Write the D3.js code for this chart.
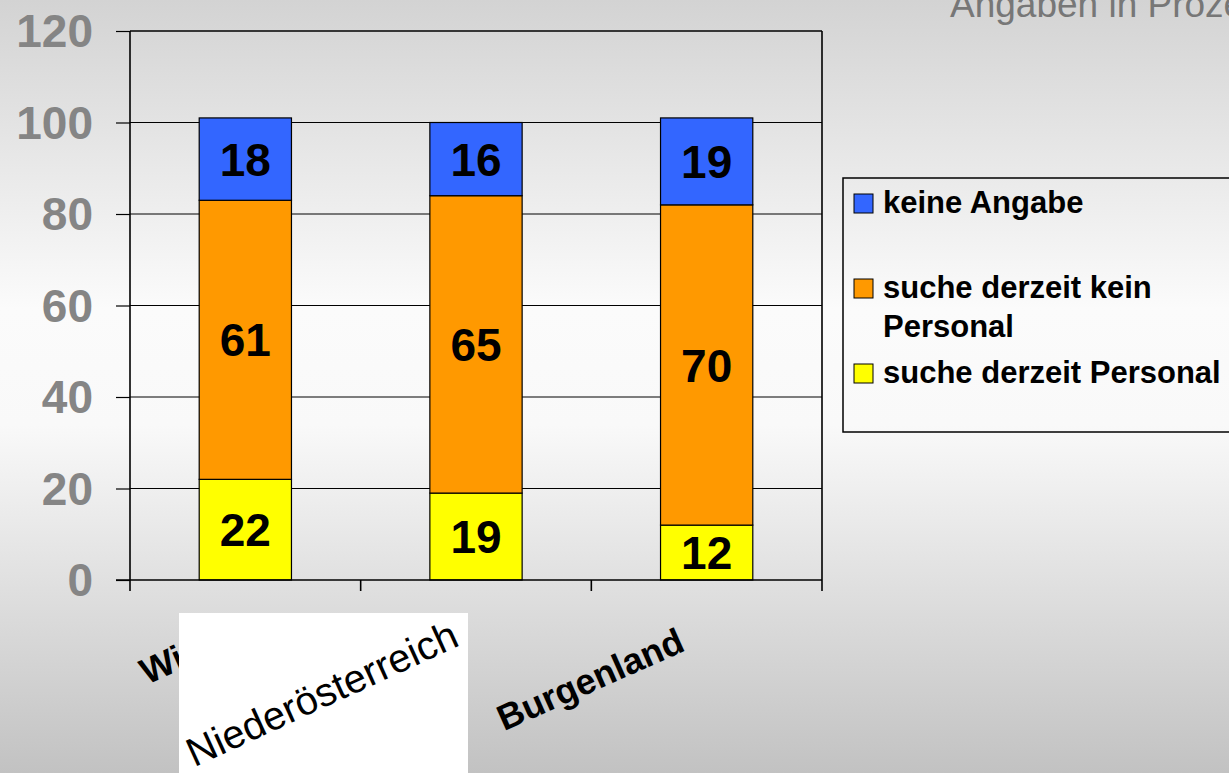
<!DOCTYPE html>
<html>
<head>
<meta charset="utf-8">
<script src="https://cdn.jsdelivr.net/npm/d3@7"></script>
<style>
  body { margin: 0; overflow: hidden; }
  text { font-family: "Liberation Sans", Arial, sans-serif; }
</style>
</head>
<body>
<div id="plot"></div>
<script>
// Data
const categories = ["Wien", "Niederösterreich", "Burgenland"];
const seriesNames = ["suche derzeit Personal", "suche derzeit kein Personal", "keine Angabe"];
const sucheDerzeitPersonal = [22, 19, 12];
const sucheDerzeitKeinPersonal = [61, 65, 70];
const keineAngabe = [18, 16, 19];
const yTicks = [0, 20, 40, 60, 80, 100, 120];
const colors = ["#FFFF00", "#FF9900", "#3366FF"];

const width = 1229, height = 773;
const margin = { top: 31, bottom: 193, left: 130, right: 407 };

const svg = d3.select('#plot')
  .append('svg')
  .attr('width', width)
  .attr('height', height);

// Background gradient
const grad = svg.append('defs').append('linearGradient')
  .attr('id', 'bg').attr('x1', 0).attr('y1', 0).attr('x2', 0).attr('y2', 1);
grad.append('stop').attr('offset', '0%').attr('stop-color', '#d3d3d3');
grad.append('stop').attr('offset', '40%').attr('stop-color', '#fbfbfb');
grad.append('stop').attr('offset', '55%').attr('stop-color', '#f9f9f9');
grad.append('stop').attr('offset', '100%').attr('stop-color', '#c2c2c2');

svg.append('rect')
  .attr('width', width).attr('height', height)
  .attr('fill', 'url(#bg)');

// Scales
const x = d3.scaleBand()
  .domain(categories)
  .range([margin.left, width - margin.right]);

const y = d3.scaleLinear()
  .domain([0, 120])
  .range([height - margin.bottom, margin.top]);

const barW = x.bandwidth() * 0.4;

// Stack the data
const rows = categories.map((c, i) => ({
  category: c,
  [seriesNames[0]]: sucheDerzeitPersonal[i],
  [seriesNames[1]]: sucheDerzeitKeinPersonal[i],
  [seriesNames[2]]: keineAngabe[i]
}));
const stacked = d3.stack().keys(seriesNames)(rows);

// Gridlines + y axis
svg.append('g')
  .attr('transform', `translate(${margin.left},0)`)
  .call(d3.axisLeft(y).tickValues(yTicks).tickSize(14).tickFormat(''))
  .call(g => g.select('.domain').remove())
  .selectAll('line').attr('stroke', '#000').attr('stroke-width', 1.2);

svg.append('g')
  .selectAll('line')
  .data(yTicks.filter(d => d > 0))
  .join('line')
  .attr('x1', margin.left).attr('x2', width - margin.right)
  .attr('y1', d => y(d)).attr('y2', d => y(d))
  .attr('stroke', '#000')
  .attr('stroke-width', d => d === 120 ? 1.5 : 1);

svg.append('g')
  .selectAll('text')
  .data(yTicks)
  .join('text')
  .attr('x', 93)
  .attr('y', d => y(d))
  .attr('dy', '0.35em')
  .attr('text-anchor', 'end')
  .style('font-size', '46px')
  .style('font-weight', 'bold')
  .attr('fill', '#858585')
  .text(d => d);

// Bars
const layer = svg.append('g')
  .selectAll('g')
  .data(stacked)
  .join('g')
  .attr('fill', (d, i) => colors[i]);

layer.selectAll('rect')
  .data(d => d)
  .join('rect')
  .attr('x', d => x(d.data.category) + (x.bandwidth() - barW) / 2)
  .attr('y', d => y(d[1]))
  .attr('width', barW)
  .attr('height', d => y(d[0]) - y(d[1]))
  .attr('stroke', '#000')
  .attr('stroke-width', 1.2);

layer.selectAll('text')
  .data(d => d)
  .join('text')
  .attr('x', d => x(d.data.category) + x.bandwidth() / 2)
  .attr('y', d => (y(d[0]) + y(d[1])) / 2)
  .attr('dy', '0.36em')
  .attr('text-anchor', 'middle')
  .attr('fill', '#000')
  .style('font-size', '46px')
  .style('font-weight', 'bold')
  .text(d => d[1] - d[0]);

// Axis lines
const axisG = svg.append('g').attr('stroke', '#000').attr('stroke-width', 1.6);
axisG.append('line')
  .attr('x1', margin.left).attr('x2', margin.left)
  .attr('y1', y(120)).attr('y2', y(0) + 11);
axisG.append('line')
  .attr('x1', width - margin.right).attr('x2', width - margin.right)
  .attr('y1', y(120)).attr('y2', y(0) + 11);
axisG.append('line')
  .attr('x1', margin.left - 14).attr('x2', width - margin.right)
  .attr('y1', y(0)).attr('y2', y(0));
axisG.selectAll('.tick')
  .data(categories.slice(1))
  .join('line')
  .attr('class', 'tick')
  .attr('x1', d => x(d)).attr('x2', d => x(d))
  .attr('y1', y(0)).attr('y2', y(0) + 11);

// Category labels
svg.append('g')
  .selectAll('text')
  .data(categories.filter(c => c !== "Niederösterreich"))
  .join('text')
  .attr('transform', d => `translate(${x(d) + x.bandwidth() / 2 - 20},650) rotate(-24)`)
  .attr('text-anchor', 'end')
  .style('font-size', '36px')
  .style('font-weight', 'bold')
  .text(d => d);

// Niederösterreich label sits on a white patch over the Wien label
const noe = "Niederösterreich";
const noeX = x(noe) + x.bandwidth() / 2;
svg.append('rect')
  .attr('x', noeX - 297).attr('y', 613)
  .attr('width', 289).attr('height', height - 613)
  .attr('fill', '#fff');
svg.append('text')
  .attr('transform', `translate(${noeX - 15},645) rotate(-24.6)`)
  .attr('text-anchor', 'end')
  .style('font-size', '40px')
  .text(noe);

// Legend
const legend = svg.append('g');
legend.append('rect')
  .attr('x', 843).attr('y', 178)
  .attr('width', 420).attr('height', 254)
  .attr('fill', 'none')
  .attr('stroke', '#000')
  .attr('stroke-width', 1.5);

const legendItems = [
  { key: seriesNames[2], lines: ["keine Angabe"], yBase: 213 },
  { key: seriesNames[1], lines: ["suche derzeit kein", "Personal"], yBase: 298 },
  { key: seriesNames[0], lines: ["suche derzeit Personal"], yBase: 383 }
];

const item = legend.selectAll('g')
  .data(legendItems)
  .join('g');

item.append('rect')
  .attr('x', 854)
  .attr('y', d => d.yBase - 19)
  .attr('width', 19).attr('height', 19)
  .attr('fill', d => colors[seriesNames.indexOf(d.key)])
  .attr('stroke', '#000')
  .attr('stroke-width', 1);

item.append('text')
  .attr('x', 883)
  .attr('y', d => d.yBase)
  .style('font-size', '31px')
  .style('font-weight', 'bold')
  .selectAll('tspan')
  .data(d => d.lines)
  .join('tspan')
  .attr('x', 883)
  .attr('dy', (d, i) => i === 0 ? 0 : 39)
  .text(d => d);

// Note in the corner
svg.append('text')
  .attr('x', 950)
  .attr('y', 17)
  .style('font-size', '37px')
  .attr('fill', '#777')
  .text('Angaben in Prozent');
</script>
</body>
</html>
